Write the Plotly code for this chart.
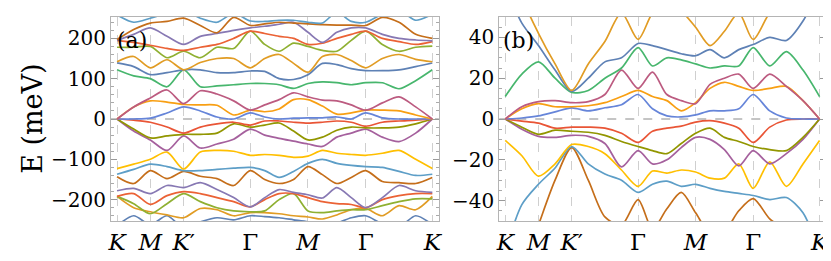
import plotly.graph_objects as go

W, H = 831, 261

# high-symmetry path (path length units)
k_path = [0, 0.5, 1, 1.5, 2, 2.5, 3, 3.5, 4, 4.433, 4.866, 5.299, 5.732,
          6.165, 6.598, 7.031, 7.464, 7.964, 8.464, 8.964, 9.464]
k_ticks = [0, 1, 2, 4, 5.732, 7.464, 9.464]
k_labels = ['<i>K</i>', '<i>M</i>', '<i>K</i>′', 'Γ', '<i>M</i>', 'Γ', '<i>K</i>']

# ---------- panel (a) bands, meV ----------
a_blue_bot = [-265, -240, -262, -240, -270, -255, -245, -250, -240, -242, -245, -250, -255, -262, -258, -245, -240, -260, -268, -240, -262]
a_orange_dn = [-192, -220, -230, -238, -245, -222, -225, -240, -232, -232, -235, -240, -243, -248, -238, -225, -222, -240, -215, -225, -192]
a_green_dn = [-192, -210, -235, -210, -185, -205, -220, -228, -230, -228, -200, -185, -228, -232, -228, -225, -225, -215, -205, -198, -198]
a_red_dn2 = [-192, -185, -212, -190, -180, -185, -195, -205, -218, -200, -185, -185, -195, -205, -210, -212, -220, -200, -190, -185, -185]
a_purple_dn = [-178, -172, -185, -165, -170, -158, -175, -195, -218, -195, -175, -182, -188, -196, -170, -195, -220, -195, -165, -178, -182]
a_brown_dn = [-143, -160, -128, -148, -130, -142, -148, -165, -128, -150, -160, -150, -118, -138, -160, -145, -128, -155, -158, -160, -145]
a_lightblue_dn = [-137, -125, -112, -118, -128, -128, -125, -122, -120, -128, -145, -130, -110, -100, -110, -115, -118, -120, -130, -140, -137]
a_yellow = [-123, -112, -100, -82, -124, -82, -78, -80, -90, -88, -90, -95, -92, -78, -85, -88, -90, -85, -78, -100, -123]
a_magenta_dn = [0, -30, -52, -78, -42, -72, -62, -50, -25, -40, -48, -55, -62, -68, -45, -35, -25, -45, -56, -35, 0]
a_olive = [0, -25, -47, -42, -38, -38, -35, -12, -20, -15, -10, -30, -52, -45, -28, -20, -22, -22, -20, -12, 0]
a_red_dn = [0, -3, -8, -20, -35, -20, -12, -8, -15, -5, -5, -8, -10, -8, -5, -8, -18, -8, -5, -3, 0]
a_blue_up = [0, 0, 2, 15, 30, 20, 5, 0, 15, 5, 0, 2, 3, 3, 5, 0, 15, 3, 0, 0, 0]
a_orange_up = [0, 30, 45, 42, 36, 35, 34, 10, 22, 18, 25, 48, 48, 32, 12, 15, 22, 22, 20, 10, 0]
a_magenta_up = [0, 30, 52, 72, 38, 70, 62, 45, 22, 35, 48, 65, 55, 47, 45, 35, 22, 40, 55, 30, 0]
a_green_mid = [122, 107, 100, 80, 122, 80, 82, 85, 88, 88, 85, 76, 88, 92, 90, 85, 90, 90, 75, 95, 122]
a_blue_mid = [139, 130, 110, 115, 122, 122, 115, 115, 119, 118, 100, 98, 110, 138, 135, 125, 120, 120, 122, 130, 139]
a_orange_mid = [142, 155, 127, 147, 122, 140, 150, 150, 127, 150, 160, 138, 116, 155, 160, 145, 127, 150, 160, 148, 142]
a_green_top = [178, 178, 180, 152, 168, 152, 178, 175, 218, 185, 168, 188, 180, 170, 168, 195, 218, 185, 168, 178, 181]
a_red_top = [195, 190, 183, 175, 170, 178, 185, 200, 218, 212, 205, 200, 185, 188, 200, 210, 218, 200, 192, 185, 192]
a_purple_top = [195, 210, 226, 205, 185, 205, 212, 220, 226, 230, 235, 240, 215, 190, 215, 226, 226, 210, 200, 196, 194]
a_brown_top = [197, 222, 238, 242, 250, 232, 214, 252, 232, 236, 240, 238, 236, 234, 233, 233, 232, 252, 240, 210, 200]
a_lightblue_top = [258, 240, 250, 262, 270, 250, 240, 262, 243, 242, 245, 245, 240, 238, 265, 242, 240, 260, 270, 245, 260]

# ---------- panel (b) bands, meV ----------
b_brown = [-95, -75, -52, -30, -14, -30, -48, -52, -39.5, -54, -44, -36, -46, -56, -55, -45, -39, -49, -55, -75, -95]
b_lightblue = [-65, -42, -32, -24, -13.5, -22, -27, -30, -36, -32, -30.5, -33, -32, -34, -35.5, -36.5, -37.5, -39.5, -38.5, -46, -65]
b_yellow = [-10.5, -18, -28, -22, -12.5, -13.5, -17, -25, -33, -25.5, -26.5, -25, -26, -29, -29, -22, -34, -21, -33, -22, -10.5]
b_magenta_dn = [0, -5, -8.5, -9, -8, -8.5, -12, -23.5, -15.5, -22, -20, -14, -9, -10, -15, -23, -15.5, -22, -17, -10, 0]
b_olive = [0, -4, -7.5, -5.5, -6, -6.5, -8, -11, -13.5, -15.5, -17, -12, -7, -4.5, -9, -11, -13.5, -15, -15.5, -9, 0]
b_red = [0, -1, -2, -4.5, -4, -4, -4.5, -7, -11.5, -6, -4.5, -3.5, -1.5, -0.8, -2, -4.5, -11.5, -4, -0.5, 0, 0]
b_blue_up = [0, 0.5, 1.5, 3.5, 5.5, 4, 5.5, 7, 12, 5, 1.5, 1, 2, 4, 4, 5, 12, 4, 0.5, 0, 0]
b_orange_up = [0, 5, 7.5, 6, 6, 6.5, 8, 11, 14, 11, 9, 4, 8, 15, 18, 16, 14, 15, 16, 9, 0]
b_magenta_up = [0, 6, 8.5, 9, 8, 8.5, 12, 24, 15, 23, 12, 9, 7.5, 17, 20, 22, 15, 22, 16, 9, 0]
b_green = [11, 22, 28, 20, 13, 14, 20, 25, 35, 26, 30, 29, 27, 25, 26, 26, 35, 26, 33, 24, 11]
b_blue_hi = [65, 47, 36, 24, 13.5, 20, 28, 30, 37, 36, 34, 32, 31, 34, 30, 34, 36.5, 40, 38.5, 48, 65]
b_orange_hi = [95, 60, 42, 27, 14, 27, 38, 52, 39, 52, 58, 53, 45, 36, 43, 52, 39, 52, 58, 70, 95]

C = {
    'blue': '#5E81B5', 'orange': '#E19C24', 'green': '#8FB032', 'red': '#EB6235',
    'purple': '#8778B3', 'brown': '#C56E1A', 'lblue': '#5D9EC7', 'yellow': '#FFBF00',
    'magenta': '#A5609D', 'olive': '#929600', 'red2': '#E95536', 'blue2': '#6685D9',
    'orange2': '#F89F13', 'pink': '#BC5B80', 'green2': '#47B66D',
}

bands_a = [
    (a_blue_bot, 'blue'), (a_orange_dn, 'orange'), (a_green_dn, 'green'),
    (a_red_dn2, 'red'), (a_purple_dn, 'purple'), (a_brown_dn, 'brown'),
    (a_lightblue_dn, 'lblue'), (a_yellow, 'yellow'), (a_magenta_dn, 'magenta'),
    (a_olive, 'olive'), (a_red_dn, 'red2'), (a_blue_up, 'blue2'),
    (a_orange_up, 'orange2'), (a_magenta_up, 'pink'), (a_green_mid, 'green2'),
    (a_blue_mid, 'blue'), (a_orange_mid, 'orange'), (a_green_top, 'green'),
    (a_red_top, 'red'), (a_purple_top, 'purple'), (a_brown_top, 'brown'),
    (a_lightblue_top, 'lblue'),
]
bands_b = [
    (b_brown, 'brown'), (b_lightblue, 'lblue'), (b_yellow, 'yellow'),
    (b_magenta_dn, 'magenta'), (b_olive, 'olive'), (b_red, 'red2'),
    (b_blue_up, 'blue2'), (b_orange_up, 'orange2'), (b_magenta_up, 'pink'),
    (b_green, 'green2'), (b_blue_hi, 'blue'), (b_orange_hi, 'orange'),
]

fig = go.Figure()
for vals, c in bands_a:
    fig.add_trace(go.Scatter(x=k_path, y=vals, mode='lines', xaxis='x', yaxis='y',
                             line=dict(color=C[c], width=1.7, shape='spline', smoothing=0.8),
                             showlegend=False, hoverinfo='skip'))
for vals, c in bands_b:
    fig.add_trace(go.Scatter(x=k_path, y=vals, mode='lines', xaxis='x2', yaxis='y2',
                             line=dict(color=C[c], width=1.7, shape='spline', smoothing=0.8),
                             showlegend=False, hoverinfo='skip'))

FONT = 'DejaVu Serif'
frame = '#b4b4b4'
xcommon = dict(range=[-0.18, 9.66], tickmode='array', tickvals=k_ticks, ticktext=k_labels,
               showgrid=True, gridcolor='#cfcfcf', griddash='dash', gridwidth=1,
               showline=True, linecolor=frame, linewidth=1, mirror=True,
               ticks='', zeroline=False, ticklabelstandoff=0,
               tickfont=dict(family=FONT, size=23, color='black'))
ycommon = dict(showgrid=False, zeroline=False, showline=True, linecolor=frame,
               linewidth=1, mirror='ticks', ticks='inside', ticklen=6, tickcolor='#999',
               tickfont=dict(family=FONT, size=20, color='black'), tickmode='linear', tick0=0)

ydom = [1 - 213 / H, 1 - 9 / H]
fig.update_layout(
    width=W, height=H, autosize=False,
    margin=dict(l=0, r=0, t=0, b=0),
    paper_bgcolor='white', plot_bgcolor='white',
    xaxis=dict(domain=[100 / W, 431 / W], anchor='y', **xcommon),
    xaxis2=dict(domain=[492 / W, 822 / W], anchor='y2', **xcommon),
    yaxis=dict(domain=ydom, anchor='x', range=[-253, 253], dtick=100,
               minor=dict(dtick=20, tick0=0, ticks='inside', ticklen=3, tickcolor='#aaa'),
               **ycommon),
    yaxis2=dict(domain=ydom, anchor='x2', range=[-50, 50], dtick=20,
                minor=dict(dtick=5, tick0=0, ticks='inside', ticklen=3, tickcolor='#aaa'),
                **ycommon),
    shapes=[
        dict(type='line', xref='x domain', yref='y', x0=0, x1=1, y0=0, y1=0,
             line=dict(color='#8a8a8a', width=1, dash='dash'), layer='below'),
        dict(type='line', xref='x2 domain', yref='y2', x0=0, x1=1, y0=0, y1=0,
             line=dict(color='#8a8a8a', width=1, dash='dash'), layer='below'),
    ],
    annotations=[
        dict(text='E (meV)', xref='paper', yref='paper', x=20 / W, y=1 - 111 / H,
             textangle=-90, showarrow=False, xanchor='center', yanchor='middle',
             font=dict(family=FONT, size=27, color='black')),
        dict(text='(a)', xref='paper', yref='paper', x=104 / W, y=1 - 33 / H,
             showarrow=False, xanchor='left', yanchor='middle',
             font=dict(family=FONT, size=22, color='black')),
        dict(text='(b)', xref='paper', yref='paper', x=494 / W, y=1 - 33 / H,
             showarrow=False, xanchor='left', yanchor='middle',
             font=dict(family=FONT, size=22, color='black')),
    ],
)

fig.write_html('out.html')
